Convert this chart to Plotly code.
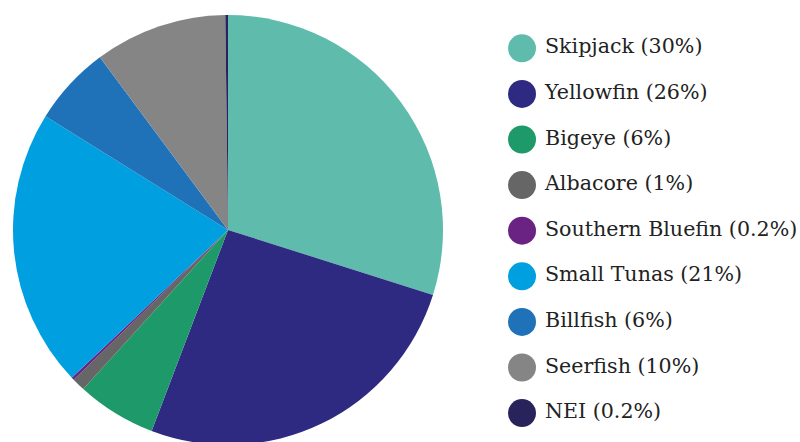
import plotly.graph_objects as go

species = ["Skipjack", "Yellowfin", "Bigeye", "Albacore", "Southern Bluefin",
           "Small Tunas", "Billfish", "Seerfish", "NEI"]
shares = [30, 26, 6, 1, 0.2, 21, 6, 10, 0.2]
share_labels = ["30%", "26%", "6%", "1%", "0.2%", "21%", "6%", "10%", "0.2%"]
colors = ["#5fbcad", "#2e2a82", "#1e9a6a", "#666666", "#6a2383",
          "#009fe0", "#1f72b8", "#858585", "#29235c"]

# Figure is slightly taller than the 442px window: the pie runs off the bottom edge
W, H = 800, 448
fig = go.Figure()

fig.add_trace(go.Pie(
    labels=species, values=shares, sort=False, direction="clockwise",
    rotation=0, marker=dict(colors=colors, line=dict(width=0)),
    textinfo="none", hoverinfo="label+percent", showlegend=False,
    domain=dict(x=[13 / W, 443 / W], y=[(H - 445) / H, (H - 15) / H]),
))

legend_text = [f"{s} ({p})" for s, p in zip(species, share_labels)]
rows = list(range(len(species)))
fig.add_trace(go.Scatter(
    x=[42] * len(species), y=rows, mode="markers",
    marker=dict(size=28, color=colors, line=dict(width=0)),
    showlegend=False, hoverinfo="skip", cliponaxis=False,
))
fig.add_trace(go.Scatter(
    x=[65] * len(species), y=rows, mode="text",
    text=legend_text, textposition="middle right",
    textfont=dict(family="DejaVu Serif", size=20.6, color="#222222"),
    showlegend=False, hoverinfo="skip", cliponaxis=False,
))

row0, step = 48.3, 45.6
fig.update_layout(
    width=W, height=H, margin=dict(l=0, r=0, t=0, b=0),
    paper_bgcolor="white", plot_bgcolor="rgba(0,0,0,0)",
    xaxis=dict(domain=[480 / W, 1], range=[0, 320], visible=False, fixedrange=True),
    yaxis=dict(domain=[0, 1], range=[(H - row0) / step, -row0 / step],
               visible=False, fixedrange=True),
)

fig.write_html("out.html", config={"displayModeBar": False},
               post_script="document.body.style.margin='0';document.body.style.overflow='hidden';")
